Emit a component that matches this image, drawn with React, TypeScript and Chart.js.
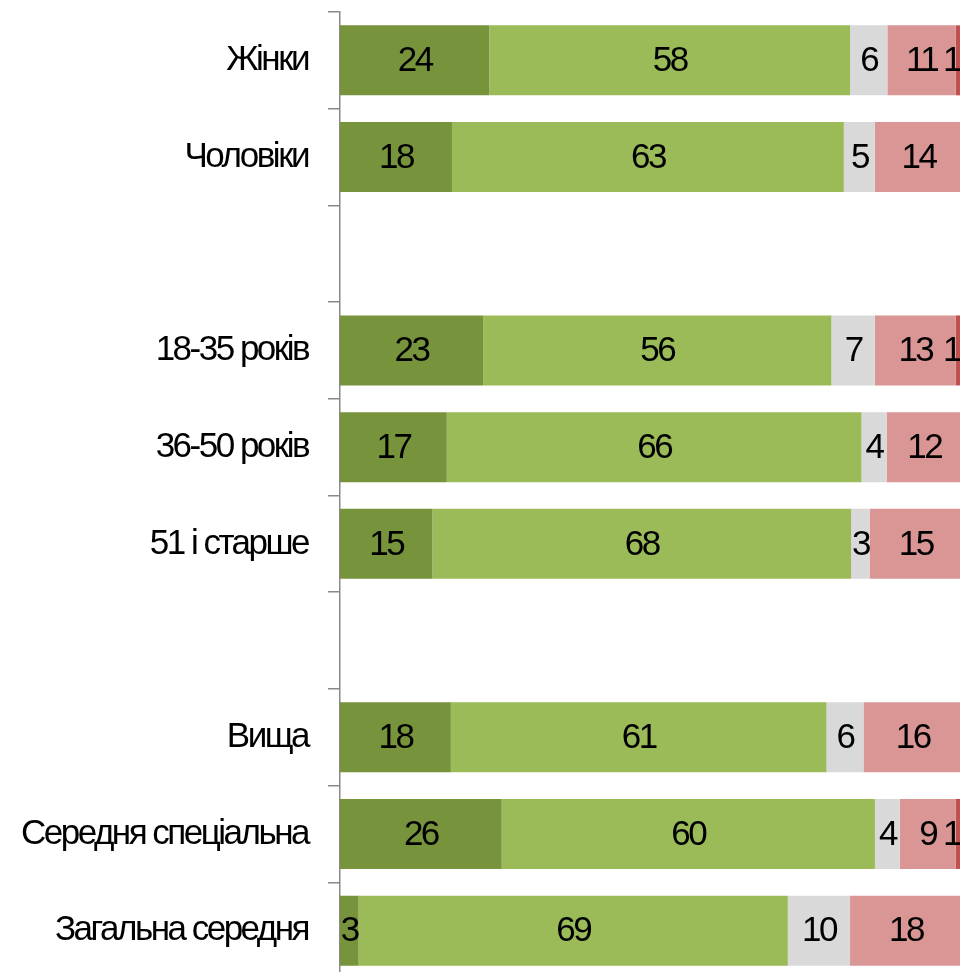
import React, { useEffect, useRef } from "react";
import { Chart, registerables } from "chart.js";

Chart.register(...registerables);

const categories = [
  "Жінки",
  "Чоловіки",
  "",
  "18-35 років",
  "36-50 років",
  "51 і старше",
  "",
  "Вища",
  "Середня спеціальна",
  "Загальна середня",
];

const series1 = [24, 18, null, 23, 17, 15, null, 18, 26, 3];
const series2 = [58, 63, null, 56, 66, 68, null, 61, 60, 69];
const series3 = [6, 5, null, 7, 4, 3, null, 6, 4, 10];
const series4 = [11, 14, null, 13, 12, 15, null, 16, 9, 18];
const series5 = [1, null, null, 1, null, null, null, null, 1, null];

const seriesNames = ["1", "2", "3", "4", "5"];
const seriesColors = ["#77933C", "#9BBB59", "#D9D9D9", "#D99694", "#C0504D"];

const FONT_FAMILY = '"Liberation Sans", Arial, sans-serif';
const FONT_SIZE = 35;
const LETTER_SPACING = "-2.5px";

const allSeries = [series1, series2, series3, series4, series5];

const rowSums = categories.map((_, i) =>
  allSeries.reduce((s, arr) => s + (arr[i] ?? 0), 0)
);

const percentOf = (arr: (number | null)[]) =>
  arr.map((v, i) => (v == null || rowSums[i] === 0 ? null : (v / rowSums[i]) * 100));

const spacingPlugin = {
  id: "spacing",
  beforeDraw(chart: any) {
    (chart.ctx as any).letterSpacing = LETTER_SPACING;
  },
};

const valueLabelPlugin = {
  id: "valueLabels",
  afterDatasetsDraw(chart: any) {
    const ctx = chart.ctx;
    const area = chart.chartArea;
    ctx.save();
    (ctx as any).letterSpacing = LETTER_SPACING;
    ctx.font = `${FONT_SIZE}px ${FONT_FAMILY}`;
    ctx.fillStyle = "#000";
    ctx.textAlign = "center";
    ctx.textBaseline = "middle";
    chart.data.datasets.forEach((ds: any, di: number) => {
      const meta = chart.getDatasetMeta(di);
      const raw = allSeries[di];
      meta.data.forEach((el: any, i: number) => {
        const v = raw[i];
        if (v == null) return;
        const props = el.getProps(["x", "y", "base"], true);
        let cx = (props.x + props.base) / 2;
        const w = ctx.measureText(String(v)).width;
        if (cx + w / 2 > area.right - 2) cx = area.right - 2 - w / 2;
        ctx.fillText(String(v), cx, props.y + 1);
      });
    });
    ctx.restore();
  },
};

export default function App() {
  const ref = useRef<HTMLCanvasElement | null>(null);

  useEffect(() => {
    if (!ref.current) return;
    const chart = new Chart(ref.current, {
      type: "bar",
      data: {
        labels: categories,
        datasets: allSeries.map((arr, i) => ({
          label: seriesNames[i],
          data: percentOf(arr),
          backgroundColor: seriesColors[i],
          borderWidth: 0,
          barPercentage: 0.724,
          categoryPercentage: 1,
        })),
      },
      options: {
        indexAxis: "y",
        responsive: false,
        animation: false,
        devicePixelRatio: 1,
        layout: { padding: { top: 12, bottom: 1, left: 0, right: 0 } },
        plugins: {
          legend: { display: false },
          tooltip: { enabled: false },
          title: { display: false },
        },
        scales: {
          x: {
            type: "linear",
            stacked: true,
            min: 0,
            max: 100,
            display: false,
          },
          y: {
            type: "category",
            stacked: true,
            offset: true,
            afterFit: (scale: any) => {
              scale.width = 340;
              scale.paddingTop = 0;
              scale.paddingBottom = 0;
            },
            grid: {
              display: true,
              drawOnChartArea: false,
              drawTicks: true,
              tickLength: 12,
              color: "#898989",
              lineWidth: 1.5,
              offset: true,
            },
            border: { display: true, color: "#898989", width: 1.5 },
            ticks: {
              color: "#000",
              padding: 20,
              font: { family: FONT_FAMILY, size: FONT_SIZE },
              autoSkip: false,
            },
          },
        },
      },
      plugins: [spacingPlugin, valueLabelPlugin],
    });
    return () => chart.destroy();
  }, []);

  return (
    <div
      style={{
        position: "fixed",
        left: 0,
        top: 0,
        width: 960,
        height: 972,
        overflow: "hidden",
        background: "#fff",
      }}
    >
      <canvas
        ref={ref}
        width={962}
        height={980}
        style={{ position: "absolute", left: 0, top: 0 }}
      />
    </div>
  );
}
